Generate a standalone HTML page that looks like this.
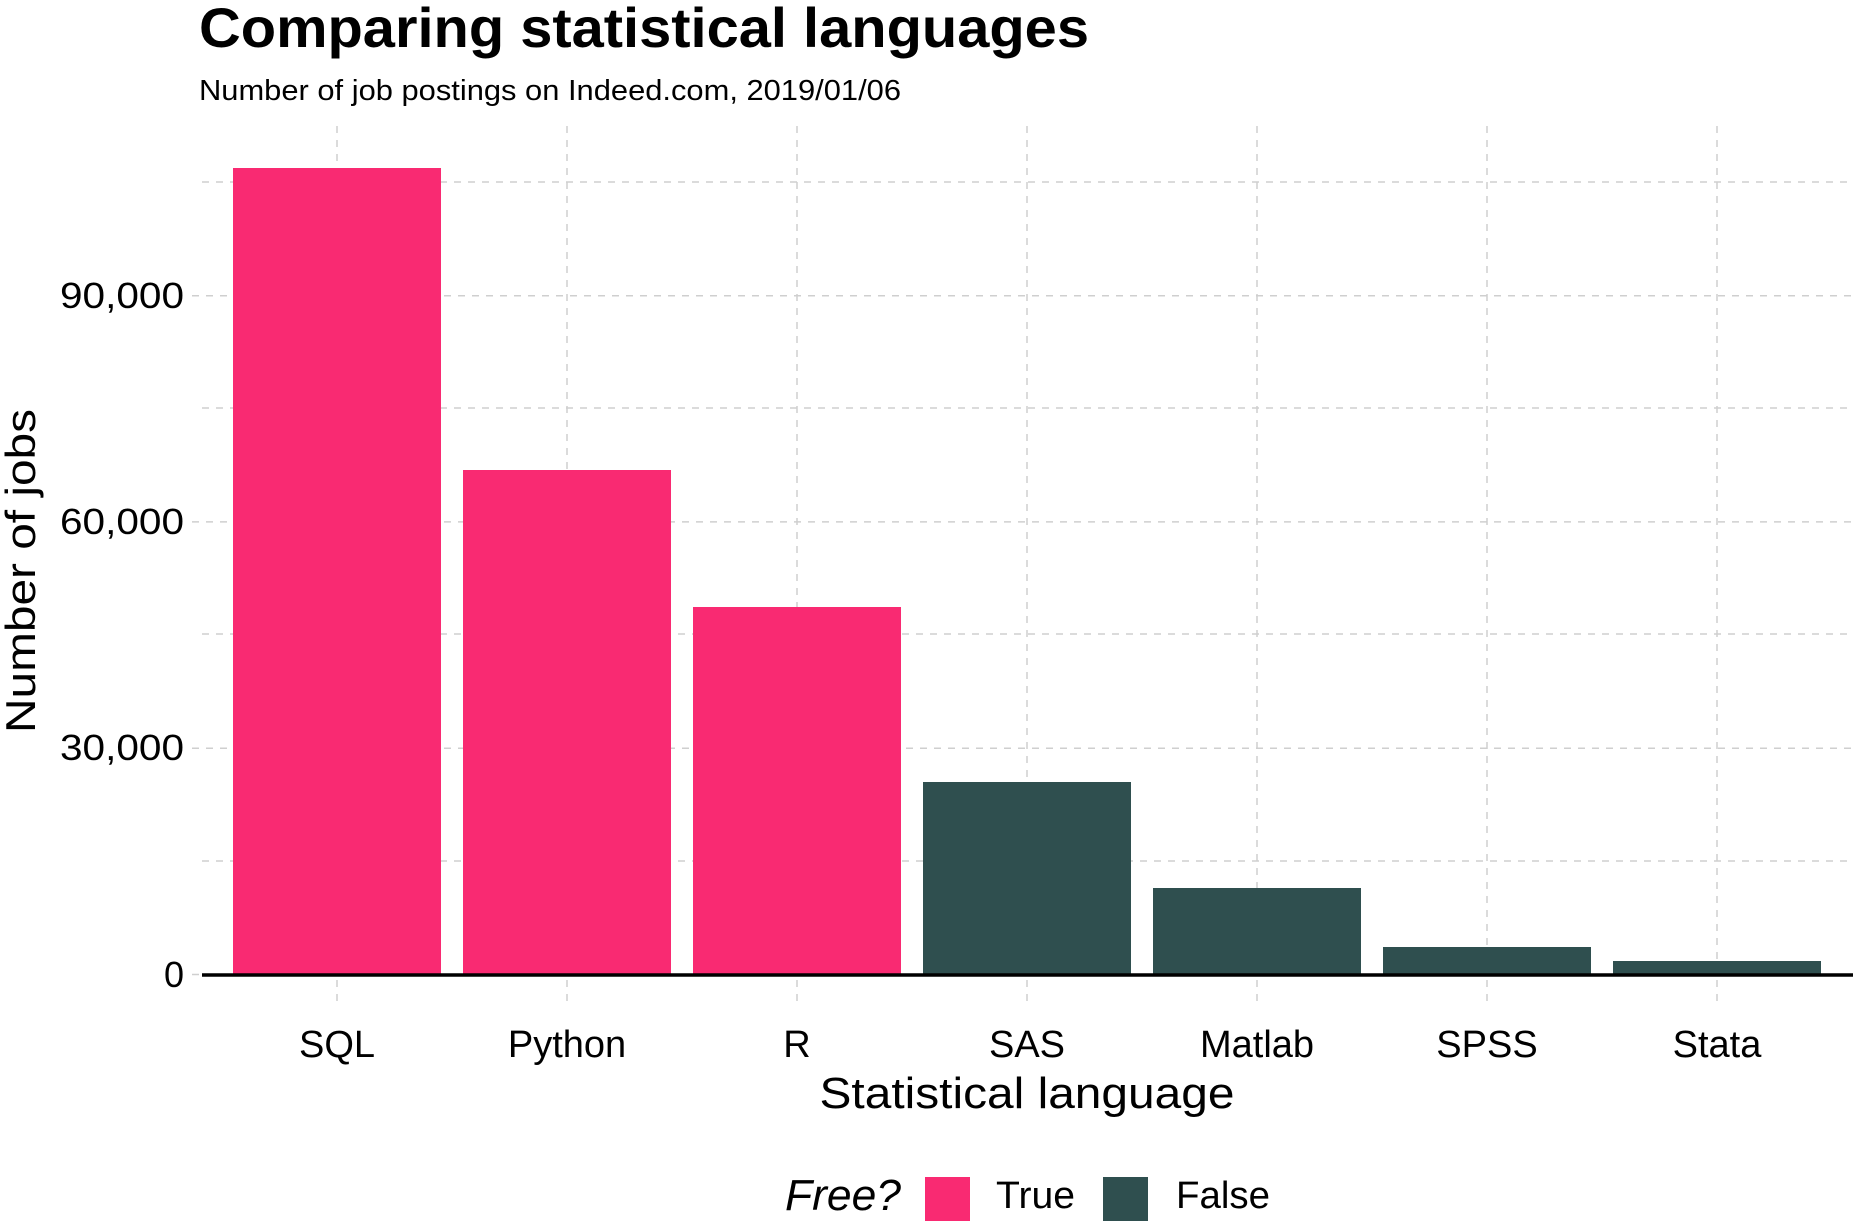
<!DOCTYPE html>
<html><head><meta charset="utf-8"><style>html,body{margin:0;padding:0;background:#fff}svg{display:block}</style></head>
<body>
<svg width="1866" height="1224" viewBox="0 0 1866 1224" xmlns="http://www.w3.org/2000/svg" font-family="Liberation Sans, sans-serif">
<rect width="1866" height="1224" fill="#fff"/>
<g stroke="#cfcfcf" stroke-width="1.5" stroke-dasharray="7,7" fill="none">
  <line x1="202" x2="1853" y1="182" y2="182"/>
  <line x1="202" x2="1853" y1="408" y2="408"/>
  <line x1="202" x2="1853" y1="634" y2="634"/>
  <line x1="202" x2="1853" y1="861" y2="861"/>
  <line x1="192" x2="1853" y1="295.8" y2="295.8"/>
  <line x1="192" x2="1853" y1="521.9" y2="521.9"/>
  <line x1="192" x2="1853" y1="748.2" y2="748.2"/>
  <line x1="192" x2="202" y1="974.5" y2="974.5"/>
  <line x1="337" x2="337" y1="126" y2="1002"/>
  <line x1="567" x2="567" y1="126" y2="1002"/>
  <line x1="797" x2="797" y1="126" y2="1002"/>
  <line x1="1027" x2="1027" y1="126" y2="1002"/>
  <line x1="1257" x2="1257" y1="126" y2="1002"/>
  <line x1="1487" x2="1487" y1="126" y2="1002"/>
  <line x1="1717" x2="1717" y1="126" y2="1002"/>
</g>
<g fill="#F92A72">
  <rect x="233" y="168" width="208" height="806.5"/>
  <rect x="463" y="470" width="208" height="504.5"/>
  <rect x="693" y="607" width="208" height="367.5"/>
</g>
<g fill="#2F4F4F">
  <rect x="923" y="782" width="208" height="192.5"/>
  <rect x="1153" y="888" width="208" height="86.5"/>
  <rect x="1383" y="947" width="208" height="27.5"/>
  <rect x="1613" y="961" width="208" height="13.5"/>
</g>
<line x1="202" x2="1853" y1="975" y2="975" stroke="#000" stroke-width="3.5"/>
<text x="199" y="47" font-size="56" font-weight="bold" textLength="890" lengthAdjust="spacingAndGlyphs">Comparing statistical languages</text>
<text x="199" y="100" font-size="29" textLength="702" lengthAdjust="spacingAndGlyphs">Number of job postings on Indeed.com, 2019/01/06</text>
<g font-size="36" text-anchor="end">
  <text x="184" y="308" textLength="124" lengthAdjust="spacingAndGlyphs">90,000</text>
  <text x="184" y="534" textLength="124" lengthAdjust="spacingAndGlyphs">60,000</text>
  <text x="184" y="760" textLength="124" lengthAdjust="spacingAndGlyphs">30,000</text>
  <text x="184" y="987">0</text>
</g>
<g font-size="38" text-anchor="middle">
  <text x="337" y="1057">SQL</text>
  <text x="567" y="1057">Python</text>
  <text x="797" y="1057">R</text>
  <text x="1027" y="1057">SAS</text>
  <text x="1257" y="1057">Matlab</text>
  <text x="1487" y="1057">SPSS</text>
  <text x="1717" y="1057">Stata</text>
</g>
<text x="1027" y="1108" font-size="44" text-anchor="middle" textLength="415" lengthAdjust="spacingAndGlyphs">Statistical language</text>
<text transform="translate(35,571) rotate(-90)" font-size="42" text-anchor="middle" textLength="324" lengthAdjust="spacingAndGlyphs">Number of jobs</text>
<text x="785" y="1210" font-size="44" font-style="italic" textLength="116" lengthAdjust="spacingAndGlyphs">Free?</text>
<rect x="925" y="1177" width="45" height="44" fill="#F92A72"/>
<text x="996" y="1208" font-size="38" textLength="79" lengthAdjust="spacingAndGlyphs">True</text>
<rect x="1103" y="1177" width="45" height="44" fill="#2F4F4F"/>
<text x="1176" y="1208" font-size="38" textLength="94" lengthAdjust="spacingAndGlyphs">False</text>
</svg>
</body></html>
